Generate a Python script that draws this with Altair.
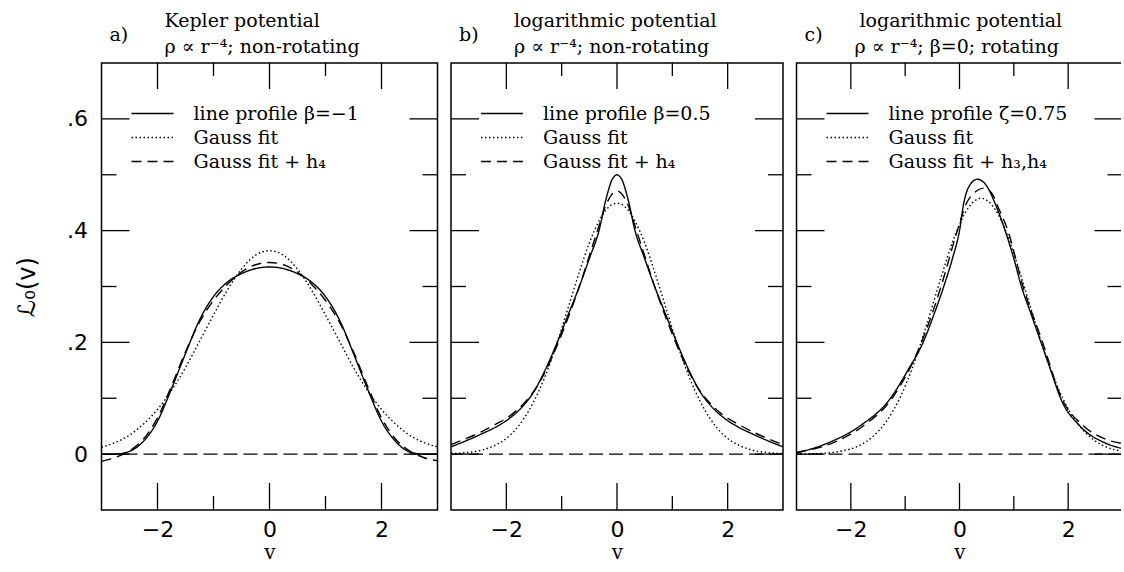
import altair as alt
import pandas as pd

# ---------------- data ----------------
# Panel a: Kepler potential
A_V = [-3.0, -2.75, -2.5, -2.25, -2.0, -1.75, -1.5, -1.25, -1.0, -0.75, -0.5, -0.25, 0.0,
       0.25, 0.5, 0.75, 1.0, 1.25, 1.5, 1.75, 2.0, 2.25, 2.5, 2.75, 3.0]
A_PROFILE = [0.0, 0.0, 0.005, 0.023, 0.059, 0.117, 0.180, 0.240, 0.282, 0.308, 0.323, 0.332, 0.335,
             0.332, 0.323, 0.308, 0.282, 0.240, 0.180, 0.117, 0.059, 0.023, 0.004, 0.0, 0.0]
A_GAUSS = [0.012, 0.021, 0.034, 0.054, 0.080, 0.114, 0.155, 0.202, 0.249, 0.294, 0.331, 0.356, 0.364,
           0.356, 0.331, 0.294, 0.249, 0.202, 0.155, 0.114, 0.080, 0.054, 0.034, 0.021, 0.013]
A_GAUSS_H = [-0.013, -0.006, 0.006, 0.027, 0.065, 0.122, 0.183, 0.236, 0.275, 0.304, 0.326, 0.339, 0.343,
             0.339, 0.326, 0.304, 0.275, 0.236, 0.183, 0.122, 0.065, 0.027, 0.006, -0.006, -0.012]

# Panel b: logarithmic potential, non-rotating
B_V = [-3.0, -2.7, -2.45, -2.2, -1.93, -1.7, -1.5, -1.3, -1.08, -0.88, -0.68, -0.5, -0.32, -0.2, -0.15,
       -0.1, -0.05, 0.0, 0.05, 0.1, 0.15, 0.2, 0.32, 0.5, 0.68, 0.88, 1.08, 1.3, 1.5, 1.7, 1.93, 2.2,
       2.45, 2.7, 3.0]
B_PROFILE = [0.013, 0.025, 0.036, 0.048, 0.065, 0.086, 0.112, 0.150, 0.200, 0.250, 0.300, 0.350, 0.402,
             0.456, 0.474, 0.489, 0.497, 0.500, 0.497, 0.489, 0.474, 0.456, 0.402, 0.350, 0.300, 0.250,
             0.200, 0.150, 0.112, 0.086, 0.065, 0.048, 0.036, 0.025, 0.013]
B_GAUSS = [0.001, 0.003, 0.007, 0.016, 0.034, 0.061, 0.095, 0.139, 0.200, 0.263, 0.326, 0.378, 0.418,
           0.437, 0.442, 0.446, 0.448, 0.449, 0.448, 0.446, 0.442, 0.437, 0.418, 0.378, 0.326, 0.263,
           0.200, 0.139, 0.095, 0.061, 0.034, 0.016, 0.007, 0.003, 0.001]
B_GAUSS_H = [0.017, 0.029, 0.040, 0.053, 0.069, 0.089, 0.113, 0.147, 0.195, 0.245, 0.300, 0.355, 0.410,
             0.446, 0.456, 0.464, 0.469, 0.471, 0.469, 0.464, 0.456, 0.446, 0.410, 0.355, 0.300, 0.245,
             0.195, 0.147, 0.113, 0.089, 0.069, 0.053, 0.040, 0.029, 0.017]

# Panel c: logarithmic potential, rotating
C_PROFILE_V = [-3.0, -2.42, -1.84, -1.27, -0.95, -0.67, -0.47, -0.29, -0.13, 0.0, 0.08, 0.18, 0.33,
               0.5, 0.65, 0.84, 1.0, 1.14, 1.32, 1.5, 1.68, 1.86, 2.22, 2.68, 3.0]
C_PROFILE = [0.002, 0.020, 0.050, 0.100, 0.150, 0.200, 0.250, 0.300, 0.350, 0.400, 0.450, 0.480, 0.492,
             0.480, 0.450, 0.400, 0.350, 0.300, 0.250, 0.200, 0.150, 0.100, 0.050, 0.020, 0.010]
C_GAUSS_V = [-3.0, -2.6, -2.2, -1.85, -1.6, -1.35, -1.1, -0.85, -0.6, -0.35, -0.1, 0.15, 0.4,
             0.65, 0.9, 1.15, 1.4, 1.65, 1.9, 2.15, 2.4, 2.65, 3.0]
C_GAUSS = [0.000, 0.001, 0.005, 0.015, 0.031, 0.058, 0.100, 0.159, 0.233, 0.313, 0.387, 0.439, 0.458,
           0.439, 0.387, 0.313, 0.233, 0.159, 0.100, 0.058, 0.031, 0.015, 0.005]
C_GAUSS_H_V = [-3.0, -2.24, -1.78, -1.24, -0.70, -0.34, -0.04, 0.11, 0.30, 0.45, 0.60, 0.72, 0.89,
               1.17, 1.53, 1.88, 2.29, 2.71, 3.0]
C_GAUSS_H = [0.003, 0.024, 0.050, 0.100, 0.200, 0.300, 0.400, 0.445, 0.470, 0.476, 0.466, 0.440, 0.400,
             0.300, 0.200, 0.100, 0.050, 0.026, 0.019]

A_LABELS = ["line profile β=−1", "Gauss fit", "Gauss fit + h₄"]
B_LABELS = ["line profile β=0.5", "Gauss fit", "Gauss fit + h₄"]
C_LABELS = ["line profile ζ=0.75", "Gauss fit", "Gauss fit + h₃,h₄"]

A_HEAD = ["Kepler potential", "ρ ∝ r⁻⁴; non-rotating"]
B_HEAD = ["logarithmic potential", "ρ ∝ r⁻⁴; non-rotating"]
C_HEAD = ["logarithmic potential", "ρ ∝ r⁻⁴; β=0; rotating"]
LETTERS = ["a)", "b)", "c)"]

Y_MAJOR = [0.0, 0.2, 0.4, 0.6]
Y_MINOR = [0.1, 0.3, 0.5]
X_MAJOR = [-2.0, 0.0, 2.0]
X_MINOR = [-1.0, 1.0]
X_LABELS = [-2.0, 0.0, 2.0]

DASHES = [[1, 0], [1.5, 2.5], [10, 6]]

SERIF = "DejaVu Serif"
SANS = "DejaVu Sans"
H = 447


def panel(curves, labels, head, letter, width, show_y, line2_x=63):
    frames = [pd.DataFrame({"v": vs, "L": ls, "series": lab}) for (vs, ls), lab in zip(curves, labels)]
    df = pd.concat(frames, ignore_index=True)
    xs = alt.Scale(domain=[-3, 3], nice=False, zero=False)
    ys = alt.Scale(domain=[-0.1, 0.7], nice=False, zero=False)

    xaxis = alt.Axis(values=X_LABELS, ticks=False, domain=False, grid=False, labelPadding=9,
                     title="v", titlePadding=2, titleFontSize=20, labelFlush=False)
    if show_y:
        yaxis = alt.Axis(values=Y_MAJOR, ticks=False, domain=False, grid=False, labelPadding=14,
                         labelExpr="datum.value == 0 ? '0' : replace(format(datum.value, '.1f'), '0.', '.')",
                         title="ℒ₀(v)", titleFont=SANS, titlePadding=27, labelFlush=False)
        lines_y = alt.Y("L:Q", scale=ys, axis=yaxis)
    else:
        lines_y = alt.Y("L:Q", scale=ys, axis=None)

    lines = alt.Chart(df).mark_line(color="black", strokeWidth=1.4, interpolate="monotone").encode(
        x=alt.X("v:Q", scale=xs, axis=xaxis),
        y=lines_y,
        strokeDash=alt.StrokeDash(
            "series:N",
            scale=alt.Scale(domain=labels, range=DASHES),
            legend=alt.Legend(title=None, orient="none", legendX=39.5, legendY=39, padding=0,
                              symbolType="M-2,0H2", symbolSize=441, symbolStrokeWidth=1.4,
                              symbolStrokeColor="black", symbolFillColor="transparent",
                              labelFont=SERIF, labelFontSize=19,
                              labelColor="black", labelOffset=29.5, rowPadding=2, labelLimit=400),
        ),
    )

    zero = alt.Chart(pd.DataFrame({"t": [0.0]})).mark_rule(
        color="black", strokeWidth=1.2, strokeDash=[14, 6]
    ).encode(y=alt.Y("t:Q", scale=ys, axis=None))

    ymaj = pd.DataFrame({"t": Y_MAJOR})
    ymin = pd.DataFrame({"t": Y_MINOR})
    xmaj = pd.DataFrame({"t": X_MAJOR})
    xmin = pd.DataFrame({"t": X_MINOR})

    def ytick(d, x0, x1):
        return alt.Chart(d).mark_rule(color="black", strokeWidth=1.3).encode(
            y=alt.Y("t:Q", scale=ys, axis=None), x=alt.value(x0), x2=alt.value(x1))

    def xtick(d, y0, y1):
        return alt.Chart(d).mark_rule(color="black", strokeWidth=1.3).encode(
            x=alt.X("t:Q", scale=xs, axis=None), y=alt.value(y0), y2=alt.value(y1))

    ticks = [
        ytick(ymaj, 0, 28), ytick(ymin, 0, 15),
        ytick(ymaj, width, width - 28), ytick(ymin, width, width - 15),
        xtick(xmaj, H, H - 27), xtick(xmin, H, H - 14),
        xtick(xmaj, 0, 26), xtick(xmin, 0, 13),
    ]

    def text(s, x, y, size=19):
        return alt.Chart(pd.DataFrame({"s": [s]})).mark_text(
            align="left", baseline="alphabetic", font=SERIF, fontSize=size, color="black"
        ).encode(text="s:N", x=alt.value(x), y=alt.value(y))

    heads = [text(letter, 8, -22), text(head[0], 63, -36), text(head[1], line2_x, -10)]

    return alt.layer(lines, zero, *ticks, *heads).resolve_axis(
        x="independent", y="independent"
    ).properties(width=width, height=H)


pa = panel([(A_V, A_PROFILE), (A_V, A_GAUSS), (A_V, A_GAUSS_H)], A_LABELS, A_HEAD, LETTERS[0], 336, True)
pb = panel([(B_V, B_PROFILE), (B_V, B_GAUSS), (B_V, B_GAUSS_H)], B_LABELS, B_HEAD, LETTERS[1], 332, False)
pc = panel([(C_PROFILE_V, C_PROFILE), (C_GAUSS_V, C_GAUSS), (C_GAUSS_H_V, C_GAUSS_H)], C_LABELS, C_HEAD,
           LETTERS[2], 326, False, line2_x=58)

chart = alt.hconcat(pa, pb, pc, spacing=5.5).resolve_scale(
    strokeDash="independent"
).resolve_legend(strokeDash="independent").properties(
    padding={"left": 14.5, "top": 11, "right": -6, "bottom": 0}, background="white"
).configure_view(stroke="black", strokeWidth=1.5).configure_axis(
    labelFont=SANS, labelFontSize=22, labelColor="black",
    titleFont=SERIF, titleFontSize=24, titleFontWeight="normal", titleColor="black"
)

chart.save("out.html", embed_options={"renderer": "svg", "actions": False})
